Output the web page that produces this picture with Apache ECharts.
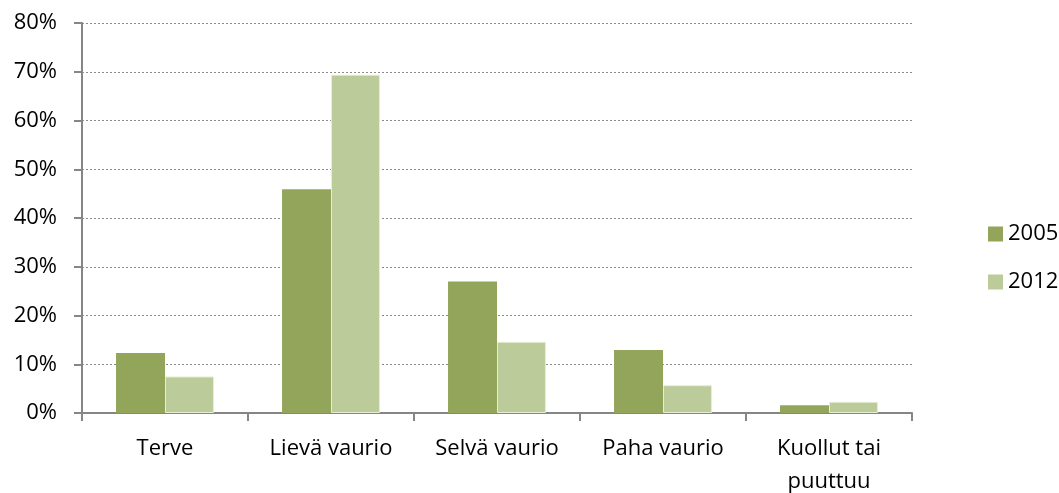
<!DOCTYPE html>
<html>
<head>
<meta charset="utf-8">
<script src="https://cdn.jsdelivr.net/npm/echarts@6/dist/echarts.min.js"></script>
<style>
  html, body { margin: 0; padding: 0; background: #fff; }
  #chart { width: 1059px; height: 493px; }
</style>
</head>
<body>
<div id="chart"></div>
<script>
// Share of trees by damage class, 2005 vs 2012 (percent)
const categories = ['Terve', 'Lievä vaurio', 'Selvä vaurio', 'Paha vaurio', 'Kuollut tai\npuuttuu'];
const values2005 = [12.3, 45.9, 27.0, 12.9, 1.6];
const values2012 = [7.5, 69.4, 14.6, 5.7, 2.3];
const seriesNames = ['2005', '2012'];

const FONT = '"Open Sans", "Noto Sans", sans-serif';
const chart = echarts.init(document.getElementById('chart'));

chart.setOption({
  animation: false,
  backgroundColor: '#ffffff',
  textStyle: { fontFamily: FONT },
  grid: { left: 82, right: 147, top: 23, bottom: 80, containLabel: false, outerBoundsMode: 'none' },
  legend: {
    orient: 'vertical',
    left: 983,
    top: 214,
    itemWidth: 15,
    itemHeight: 15,
    itemGap: 18,
    icon: 'rect',
    itemStyle: { borderWidth: 0 },
    textStyle: { fontSize: 22, color: '#000', fontFamily: FONT, lineHeight: 30 },
    data: seriesNames
  },
  xAxis: {
    type: 'category',
    data: categories,
    axisLine: { lineStyle: { color: '#868686', width: 2 } },
    axisTick: { show: true, length: 8, lineStyle: { color: '#868686', width: 2 } },
    axisLabel: { color: '#000', fontSize: 22, margin: 19, lineHeight: 33, fontFamily: FONT }
  },
  yAxis: {
    type: 'value',
    min: 0,
    max: 80,
    interval: 10,
    axisLine: { show: true, lineStyle: { color: '#868686', width: 2 } },
    axisTick: { show: true, length: 8, lineStyle: { color: '#868686', width: 2 } },
    axisLabel: { color: '#000', fontSize: 22, margin: 25, formatter: '{value}%', fontFamily: FONT },
    splitLine: { show: true, lineStyle: { color: '#8c8c8c', type: [2, 2], width: 1 } }
  },
  series: [
    {
      name: seriesNames[0],
      type: 'bar',
      data: values2005,
      itemStyle: { color: '#93a55a' },
      barGap: '0%',
      barCategoryGap: '41%'
    },
    {
      name: seriesNames[1],
      type: 'bar',
      data: values2012,
      itemStyle: { color: '#bbcb99', borderColor: '#e6eed6', borderWidth: 1 },
      barGap: '0%',
      barCategoryGap: '41%'
    }
  ]
});
</script>
</body>
</html>
